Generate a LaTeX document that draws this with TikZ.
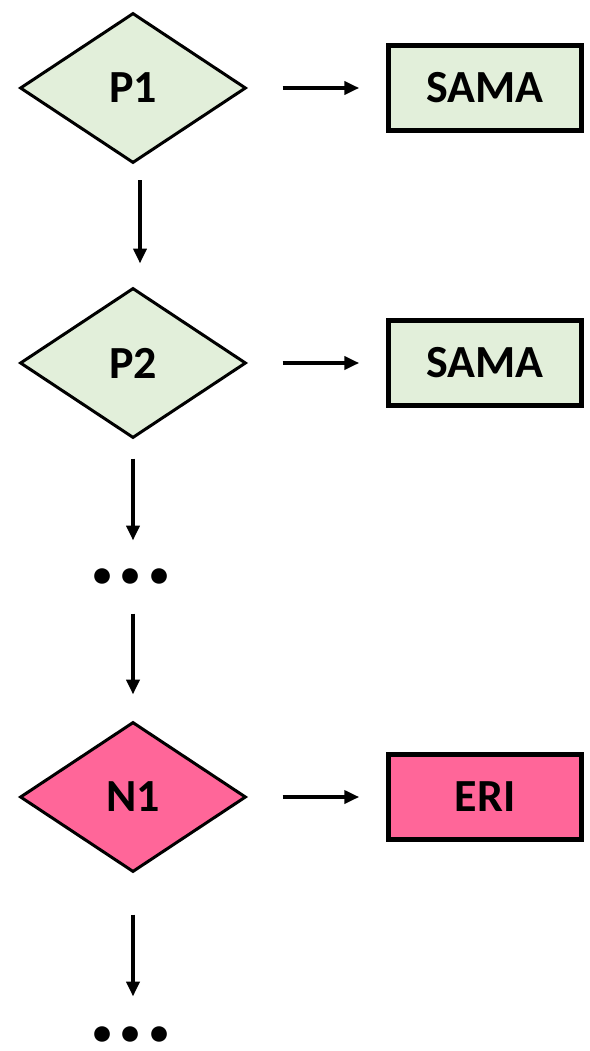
\documentclass[tikz,border=0pt]{standalone}
\usepackage{fontspec}
\setmainfont{Carlito}
\usetikzlibrary{shapes.geometric, arrows.meta, positioning}
\definecolor{okgreen}{HTML}{E2EFDA}
\definecolor{nopink}{HTML}{FF6699}

\begin{document}
\begin{tikzpicture}[x=1pt,y=1pt,->,>={Triangle[length=15pt,width=13pt]},line width=4pt,
    node distance=352pt,font=\fontsize{46}{50}\selectfont\bfseries,
    decision/.style={diamond,draw,line width=3pt,minimum width=226pt,minimum height=150pt,inner sep=0pt},
    result/.style={rectangle,draw,line width=4.5pt,minimum width=193pt,minimum height=85pt},
    more/.style={inner sep=0pt,text height=15pt,text depth=0pt,font=\fontsize{105}{110}\selectfont\bfseries}]

    \useasboundingbox (0,0) rectangle (589,-1051);

    \node[decision, fill=okgreen] (p1) at (133,-88) {P1};
    \node[result, fill=okgreen] (sama1) [right of = p1] {SAMA};
    \node[decision, fill=okgreen] (p2) at (133,-363) {P2};
    \node[result, fill=okgreen] (sama2) [right of = p2] {SAMA};
    \node[more] (dots1) at (131,-576) {...};
    \node[decision, fill=nopink] (n1) at (133,-797) {N1};
    \node[result, fill=nopink] (eri) [right of = n1] {ERI};
    \node[more] (dots2) at (131,-1034) {...};

    \path
    (p1) edge [shorten <=35pt, shorten >=27pt] (sama1)
    (p2) edge [shorten <=35pt, shorten >=27pt] (sama2)
    (n1) edge [shorten <=35pt, shorten >=27pt] (eri)
    ([xshift=7pt]p1.south) edge [shorten <=16pt, shorten >=23pt] ([xshift=7pt]p2.north)
    (p2.south) edge [shorten <=19pt, shorten >=26pt] (p2.south |- dots1.north)
    (dots1.south -| n1.north) edge [shorten <=28pt, shorten >=26pt] (n1.north)
    (n1.south) edge [shorten <=41pt, shorten >=28pt] (n1.south |- dots2.north)
    ;
\end{tikzpicture}
\end{document}
